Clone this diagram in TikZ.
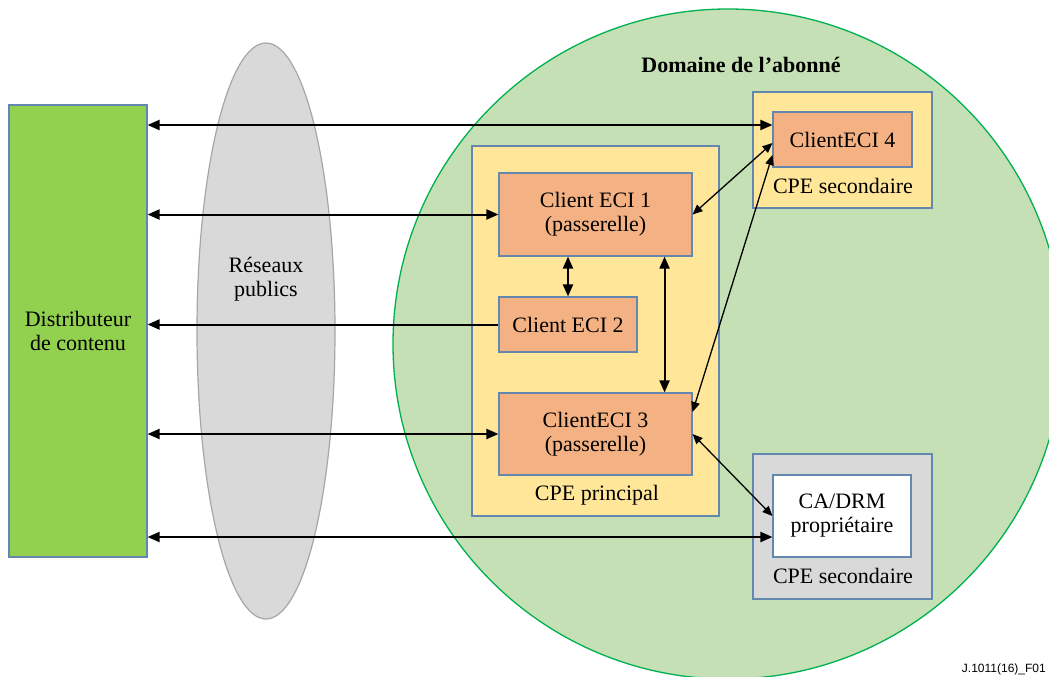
\documentclass[tikz,border=0pt]{standalone}
\usepackage{fontspec}
\setmainfont{Liberation Serif}
\newfontfamily\labelsans{Liberation Sans}
\usetikzlibrary{arrows.meta,calc,shapes.geometric}
\definecolor{distgreen}{HTML}{92D050}
\definecolor{domfill}{HTML}{C5E0B4}
\definecolor{domline}{HTML}{00B050}
\definecolor{netfill}{HTML}{D9D9D9}
\definecolor{netline}{HTML}{A6A6A6}
\definecolor{cpeyellow}{HTML}{FFE699}
\definecolor{eciorange}{HTML}{F4B183}
\definecolor{boxline}{RGB}{100,135,175}
\tikzset{
  box/.style={draw=boxline, line width=1.1pt, inner sep=0pt, align=center},
  bigarrow/.style={line width=2pt, {Triangle[length=12pt,width=10pt]}-{Triangle[length=12pt,width=10pt]}},
  bigsingle/.style={line width=2pt, -{Triangle[length=12pt,width=10pt]}},
  thinarrow/.style={line width=1.3pt, {Triangle[length=10pt,width=8.5pt]}-{Triangle[length=10pt,width=8.5pt]}},
  lbl/.style={inner sep=0pt, anchor=base}
}
\begin{document}
\begin{tikzpicture}[x=1pt,y=-1pt,font=\fontsize{22}{24}\selectfont]
\useasboundingbox (0,0) rectangle (1049,677);
% domain circle
\node[circle, fill=domfill, draw=domline, line width=1.3pt, minimum size=670pt, inner sep=0pt] (dom) at (728,344) {};
\node[lbl, font=\fontsize{22}{24}\selectfont\bfseries] (domt) at (741,72) {Domaine de l’abonné};
% public networks
\node[ellipse, fill=netfill, draw=netline, line width=1.2pt, minimum width=138pt, minimum height=576pt, inner sep=0pt] (net) at (266,331) {};
\node[align=center, inner sep=0pt] (nett) at (266,279) {Réseaux\\publics};
% distributor
\node[box, fill=distgreen, minimum width=138pt, minimum height=452pt] (dist) at (78,331) {Distributeur\\de contenu};
% CPE principal
\node[box, fill=cpeyellow, minimum width=247pt, minimum height=370pt] (cpep) at (595.5,331) {};
\node[lbl] (cpept) at (597,500) {CPE principal};
\node[box, fill=eciorange, minimum width=193pt, minimum height=83pt] (eci1) at (595.5,214.5) {Client ECI 1\\(passerelle)};
\node[box, fill=eciorange, minimum width=138pt, minimum height=55pt] (eci2) at (568,324.5) {Client ECI 2};
\node[box, fill=eciorange, minimum width=193pt, minimum height=82pt] (eci3) at (595.5,434) {ClientECI 3\\(passerelle)};
% CPE secondaire (top)
\node[box, fill=cpeyellow, minimum width=179pt, minimum height=116pt] (cpes1) at (842.5,150) {};
\node[box, fill=eciorange, minimum width=139pt, minimum height=55pt] (eci4) at (842.5,139.5) {ClientECI 4};
\node[lbl] (cpes1t) at (843,193) {CPE secondaire};
% CPE secondaire (bottom)
\node[box, fill=netfill, minimum width=179pt, minimum height=145pt] (cpes2) at (842.5,526.5) {};
\node[box, fill=white, minimum width=138pt, minimum height=82pt] (cadrm) at (842,516) {CA/DRM\\propriétaire};
\node[lbl] (cpes2t) at (843,583) {CPE secondaire};
% figure label
\node[anchor=south east, inner sep=0pt, font=\labelsans\fontsize{12}{13}\selectfont] (figlbl) at (1046,675) {J.1011(16)\_F01};
% connection points
\coordinate (a4) at ([yshift=14.5pt]eci4.west);
\coordinate (adrm) at ([yshift=-21pt]cadrm.west);
\coordinate (b4a) at ([yshift=-3.5pt]eci4.west);
\coordinate (b4b) at ([yshift=-15.5pt]eci4.west);
\coordinate (b3) at ([yshift=22pt]eci3.east);
\coordinate (v1) at ([xshift=-28pt]eci1.south east);
\coordinate (v3) at ([xshift=-28pt]eci3.north east);
% horizontal connectors
\draw[bigarrow] (dist.east |- a4) -- (a4);
\draw[bigarrow] (dist.east |- eci1.west) -- (eci1.west);
\draw[bigsingle] (eci2.west) -- (dist.east |- eci2.west);
\draw[bigarrow] (dist.east |- eci3.west) -- (eci3.west);
\draw[bigarrow] (dist.east |- adrm) -- (adrm);
% vertical connectors
\draw[bigarrow] (eci1.south -| eci2.north) -- (eci2.north);
\draw[bigarrow] (v1) -- (v3);
% diagonal connectors
\draw[thinarrow] (b4a) -- (eci1.east);
\draw[thinarrow] (b4b) -- (b3);
\draw[thinarrow] (eci3.east) -- (cadrm.west);
\end{tikzpicture}
\end{document}
